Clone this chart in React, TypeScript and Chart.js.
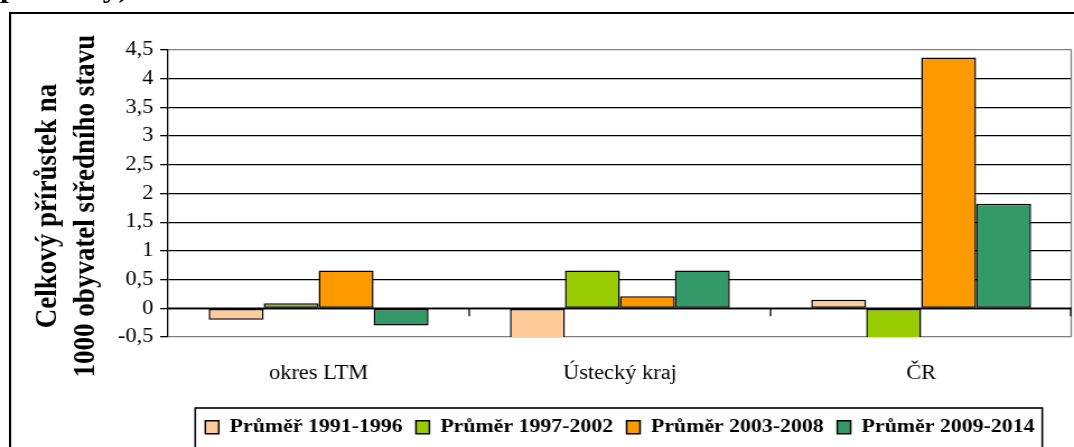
import React, { useEffect, useRef } from 'react';
import { Chart, registerables } from 'chart.js';

Chart.register(...registerables);

// ---- data ----
const categories = ['okres LTM', 'Ústecký kraj', 'ČR'];
const seriesNames = ['Průměř 1991-1996', 'Průměr 1997-2002', 'Průměr 2003-2008', 'Průměr 2009-2014'];
const avg1991to1996 = [-0.2, -0.8, 0.15];
const avg1997to2002 = [0.09, 0.66, -0.7];
const avg2003to2008 = [0.66, 0.21, 4.37];
const avg2009to2014 = [-0.3, 0.66, 1.82];
const seriesColors = ['#FFCC99', '#99CC00', '#FF9900', '#339966'];
const yTickValues = [-0.5, 0, 0.5, 1, 1.5, 2, 2.5, 3, 3.5, 4, 4.5];
const yAxisTitleLines = ['Celkový přírůstek na', '1000 obyvatel středního stavu'];
const captionText = 'průměry)';

// ---- layout (canvas is rendered narrower and stretched horizontally) ----
const PAGE_W = 1074;
const PAGE_H = 447;
const CANVAS_W = 959;
const STRETCH = PAGE_W / CANVAS_W;
const FONT = '"Liberation Serif", "Times New Roman", serif';

const extrasPlugin = {
  id: 'extras',
  afterDatasetsDraw(chart: any) {
    const { ctx, chartArea, scales } = chart;
    const x = scales.x;
    const y = scales.y;
    const y0 = y.getPixelForValue(0);
    ctx.save();
    // right plot border
    ctx.strokeStyle = '#808080';
    ctx.lineWidth = 1.3;
    ctx.beginPath();
    ctx.moveTo(chartArea.right - 0.5, chartArea.top);
    ctx.lineTo(chartArea.right - 0.5, chartArea.bottom);
    ctx.stroke();
    // zero axis line
    ctx.strokeStyle = '#000';
    ctx.lineWidth = 1.8;
    ctx.beginPath();
    ctx.moveTo(chartArea.left, y0);
    ctx.lineTo(chartArea.right, y0);
    ctx.stroke();
    // category separator ticks on the zero line
    ctx.lineWidth = 1.3;
    for (let i = 1; i <= categories.length; i++) {
      const px =
        i < categories.length
          ? (x.getPixelForValue(i - 1) + x.getPixelForValue(i)) / 2
          : chartArea.right - 1;
      ctx.beginPath();
      ctx.moveTo(px, y0);
      ctx.lineTo(px, y0 + 8);
      ctx.stroke();
    }
    ctx.restore();
  },
  afterDraw(chart: any) {
    const { ctx } = chart;
    ctx.save();
    // y axis title (two lines, rotated)
    ctx.fillStyle = '#000';
    ctx.font = `bold 27px ${FONT}`;
    ctx.textAlign = 'center';
    ctx.textBaseline = 'middle';
    const lineX = [43, 77];
    yAxisTitleLines.forEach((t, i) => {
      ctx.save();
      ctx.translate(lineX[i], 206);
      ctx.rotate(-Math.PI / 2);
      ctx.fillText(t, 0, 0);
      ctx.restore();
    });
    // legend frame
    const lg = chart.legend;
    if (lg && lg.legendHitBoxes && lg.legendHitBoxes.length) {
      const hb = lg.legendHitBoxes;
      const first = hb[0];
      const last = hb[hb.length - 1];
      const left = first.left - 9;
      const right = last.left + last.width + 7;
      const top = lg.top + 2.5;
      ctx.strokeStyle = '#000';
      ctx.lineWidth = 1.6;
      ctx.strokeRect(left, top, right - left, 200);
    }
    ctx.restore();
  },
};

export default function App() {
  const canvasRef = useRef<HTMLCanvasElement | null>(null);

  useEffect(() => {
    const canvas = canvasRef.current;
    if (!canvas) return;
    const seriesValues = [avg1991to1996, avg1997to2002, avg2003to2008, avg2009to2014];
    const chart = new Chart(canvas, {
      type: 'bar',
      data: {
        labels: categories,
        datasets: seriesNames.map((name, i) => ({
          label: name,
          data: seriesValues[i],
          backgroundColor: seriesColors[i],
          borderColor: '#000',
          borderWidth: 1.5,
          borderSkipped: false,
          barPercentage: 1,
          categoryPercentage: 0.73,
          clip: 0,
        })),
      },
      options: {
        responsive: false,
        animation: false,
        devicePixelRatio: 1,
        layout: { padding: { left: 100, top: 50, right: 2, bottom: 0 } },
        plugins: {
          tooltip: { enabled: false },
          legend: {
            position: 'bottom',
            fullSize: false,
            labels: {
              boxWidth: 12,
              boxHeight: 13,
              padding: 12,
              color: '#000',
              font: { family: FONT, size: 19.5, weight: 'bold' },
            },
          },
        },
        scales: {
          x: {
            grid: { display: false, drawTicks: false },
            border: { display: false },
            ticks: {
              color: '#000',
              padding: 25,
              maxRotation: 0,
              font: { family: FONT, size: 20 },
            },
            afterFit: (s: any) => {
              s.height = 68.5;
            },
          },
          y: {
            min: -0.5,
            max: 4.5,
            afterBuildTicks: (s: any) => {
              s.ticks = yTickValues.map((v) => ({ value: v }));
            },
            ticks: {
              color: '#000',
              padding: 6,
              font: { family: FONT, size: 20 },
              callback: (v: any) => String(v).replace('.', ','),
            },
            grid: {
              color: (c: any) =>
                c.tick && (c.tick.value === 4.5 || c.tick.value === -0.5) ? '#808080' : '#000',
              tickColor: '#000',
              lineWidth: 1.3,
              tickLength: 7,
            },
            border: { color: '#000', width: 1.3 },
            afterFit: (s: any) => {
              s.width = 50;
            },
          },
        },
      },
      plugins: [extrasPlugin],
    } as any);
    return () => chart.destroy();
  }, []);

  return (
    <div
      style={{
        position: 'fixed',
        left: 0,
        top: 0,
        width: PAGE_W,
        height: PAGE_H,
        overflow: 'hidden',
        background: '#fff',
      }}
    >
      <div
        style={{
          position: 'absolute',
          left: 0,
          top: 0,
          width: CANVAS_W,
          height: PAGE_H,
          transform: `scaleX(${STRETCH})`,
          transformOrigin: '0 0',
          overflow: 'hidden',
        }}
      >
        <div
          style={{
            position: 'absolute',
            left: 0,
            top: -26,
            fontFamily: FONT,
            fontWeight: 'bold',
            fontSize: 28,
            lineHeight: '28px',
            whiteSpace: 'nowrap',
            color: '#000',
          }}
        >
          {captionText}
        </div>
        <div
          style={{
            position: 'absolute',
            left: 8,
            top: 12,
            width: 1100,
            height: 1000,
            border: '2px solid #000',
            boxSizing: 'border-box',
          }}
        />
        <canvas
          ref={canvasRef}
          width={CANVAS_W}
          height={PAGE_H}
          style={{ position: 'absolute', left: 0, top: 0, width: CANVAS_W, height: PAGE_H }}
        />
      </div>
    </div>
  );
}
